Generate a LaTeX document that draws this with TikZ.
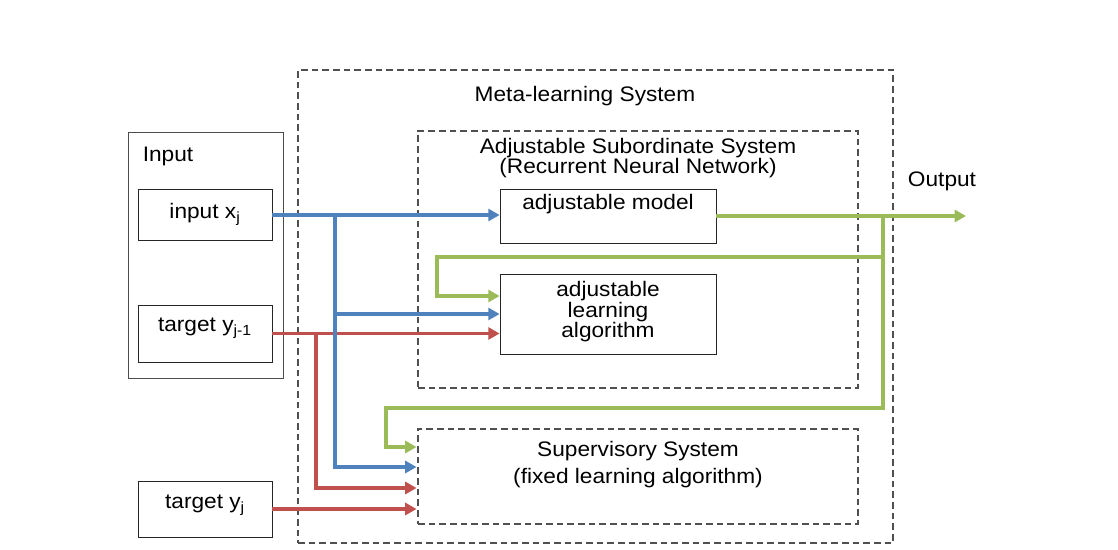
\documentclass[tikz,border=0pt]{standalone}
\usepackage{fontspec}
\setmainfont[FakeStretch=1.08]{Liberation Sans}
\usetikzlibrary{arrows.meta}
\definecolor{cblue}{HTML}{4F81BD}
\definecolor{cred}{HTML}{C0504D}
\definecolor{cgreen}{HTML}{9BBB59}
\definecolor{cdash}{HTML}{505050}
\tikzset{
  txt/.style={font=\fontsize{15.75}{15.4}\selectfont, inner sep=0pt},
  box/.style={draw=black!85, line width=0.6pt, inner sep=0pt},
  dbox/.style={draw=cdash, line width=2.2pt, dash pattern=on 5pt off 3pt, inner sep=0pt},
  bl/.style={line width=2.9pt, draw=cblue, -{Triangle[length=8.5pt,width=9pt,fill=cblue]}},
  rd/.style={line width=2.9pt, draw=cred, -{Triangle[length=8.5pt,width=9pt,fill=cred]}},
  gr/.style={line width=2.9pt, draw=cgreen, -{Triangle[length=8.5pt,width=9pt,fill=cgreen]}},
}
\begin{document}
\begin{tikzpicture}[x=0.75pt,y=-0.75pt]
\useasboundingbox (0,0) rectangle (1118,550);
% containers
\node[box, draw=black!70, minimum width=116.25pt, minimum height=184.5pt] (inbox) at (205.5,255) {};
\node[txt] (inlab) at (168,156) {Input};
\node[dbox, minimum width=446.25pt, minimum height=354.75pt] (meta) at (595.5,306.5) {};
\node[txt] (metalab) at (585,96) {Meta-learning System};
\node[dbox, minimum width=330pt, minimum height=192.75pt] (sub) at (638,259.5) {};
\node[txt, align=center] (sublab) at (638,158) {Adjustable Subordinate System\\(Recurrent Neural Network)};
\node[dbox, minimum width=330pt, minimum height=71.25pt] (sup) at (638,476.5) {};
\node[txt, align=center, font=\fontsize{15.75}{20.25}\selectfont] (suplab) at (638,465) {Supervisory System\\(fixed learning algorithm)};
% boxes
\node[box, minimum width=100.5pt, minimum height=38.25pt] (xj) at (205,215) {};
\node[txt] at (205,214) {input x\textsubscript{j}};
\node[box, minimum width=100.5pt, minimum height=42.75pt] (yjm) at (205,333.5) {};
\node[txt] at (205,328) {target y\textsubscript{j-1}};
\node[box, minimum width=100.5pt, minimum height=42pt] (yj) at (205,509) {};
\node[txt] at (205,505) {target y\textsubscript{j}};
\node[box, minimum width=162pt, minimum height=40.5pt] (model) at (608,216) {};
\node[txt] at (608,204) {adjustable model};
\node[box, minimum width=162pt, minimum height=60pt] (learn) at (608,314) {};
\node[txt, align=center] at (608,312) {adjustable\\learning\\algorithm};
\node[txt] (outlab) at (942,181) {Output};
% junction coordinates
\coordinate (bj) at (335,215);
\coordinate (rj) at (316,333.5);
\coordinate (gj) at (883,216);
\coordinate (out) at (966,216);
% red connectors
\draw[rd] (yjm.east) -- (learn.west |- yjm.east);
\draw[rd] (rj) |- (sup.west |- 0,488);
\draw[rd] (yj.east) -- (sup.west |- yj.east);
% blue connectors
\draw[bl] (xj.east) -- (model.west |- xj.east);
\draw[bl] (bj) |- (sup.west |- 0,467);
\draw[bl] (bj |- 0,314) -- (learn.west |- 0,314);
% green connectors
\draw[gr] (model.east) -- (out);
\draw[gr] (gj) |- (437,257) |- (learn.west |- 0,296);
\draw[gr] (gj) |- (386,408) |- (sup.west |- 0,447);
\end{tikzpicture}
\end{document}
